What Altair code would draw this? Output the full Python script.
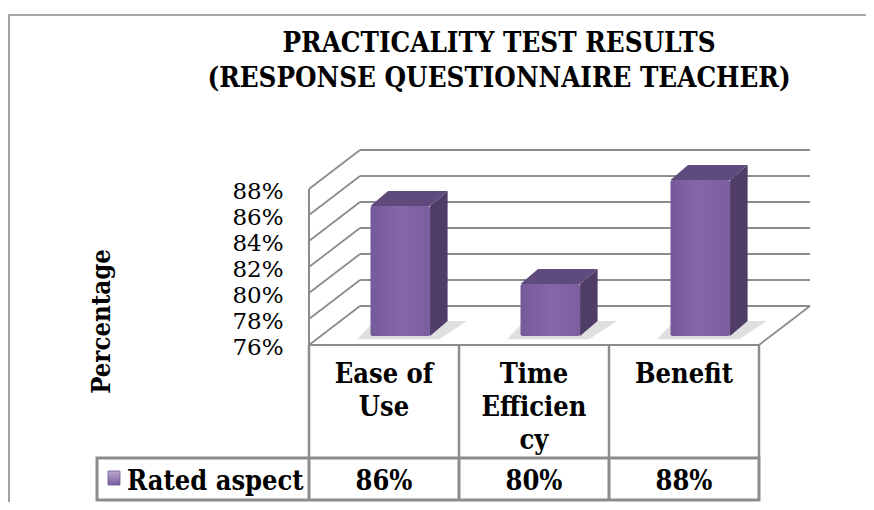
import altair as alt
import pandas as pd

# ---------------- data ----------------
title_lines = ["PRACTICALITY TEST RESULTS", "(RESPONSE QUESTIONNAIRE TEACHER)"]
categories = ["Ease of Use", "Time Efficiency", "Benefit"]
category_labels = ["Ease of\nUse", "Time\nEfficien\ncy", "Benefit"]
values = [86, 80, 88]
value_labels = ["86%", "80%", "88%"]
y_ticks = [76, 78, 80, 82, 84, 86, 88]
series_name = "Rated aspect"
y_title = "Percentage"

# ---------------- layout / style ----------------
PAD_L, PAD_T = 301, 7
W, H = 557, 487
COL_PX = 150.0          # one category column in px
PX_PER_PCT = 13.0
BASE = 76               # floor value
BASE_Y = 330            # plot-y of BASE on the front plane
Y_MAX = BASE + BASE_Y / PX_PER_PCT
Y_MIN = BASE - (H - BASE_Y) / PX_PER_PCT
X_MAX = W / COL_PX
N = len(categories)

WALL_DU, WALL_DP = 0.34, 3.0          # depth of the back wall
BAR_L, BAR_R = 0.41, 0.807            # bar front face inside a column
BAR_LIFT = 0.7                        # bars stand a bit behind the front edge
BAR_DU, BAR_DP = 0.117, 1.15          # bar depth

GRID = "#8c8c8c"
SIDE = "#4F3D67"
TOP = "#5F4A7D"
FONT = "DejaVu Serif"
FONT_C = "DejaVu Serif Condensed, DejaVu Serif"


def ux(page_x):
    return (page_x - (PAD_L + 8)) / COL_PX


def py(page_y):
    return BASE + ((BASE_Y + PAD_T + 8) - page_y) / PX_PER_PCT


xs = alt.Scale(domain=[0, X_MAX], range=[0, W], nice=False, zero=False)
ys = alt.Scale(domain=[Y_MIN, Y_MAX], range=[H, 0], nice=False, zero=False)

y_axis = alt.Axis(
    orient="left",
    values=y_ticks,
    labelExpr="datum.value + '%'",
    labelFont=FONT, labelFontSize=23, labelColor="black",
    labelPadding=26, labelFlush=False, labelOverlap=False, labelOffset=2,
    ticks=False, domain=False, grid=False,
    title=y_title, titleFont=FONT_C, titleFontSize=25.5, titleFontWeight="bold",
    titleColor="black", titleAngle=270, titleAlign="center", titleBaseline="middle",
    titleX=-208, titleY=306,
)


def X(f):
    return alt.X(f, type="quantitative", scale=xs, axis=None)


def Y(f):
    return alt.Y(f, type="quantitative", scale=ys, axis=y_axis, stack=False)


# ---------------- geometry tables (derived from data) ----------------
top_tick = max(y_ticks)
lines = []
for t in y_ticks:
    lines.append(dict(x=WALL_DU, x2=N + WALL_DU, y=t + WALL_DP, y2=t + WALL_DP, w=1.8))
    lines.append(dict(x=0, x2=WALL_DU, y=t, y2=t + WALL_DP, w=1.8))
lines.append(dict(x=0, x2=0, y=BASE, y2=top_tick, w=2.0))
lines.append(dict(x=0, x2=N, y=BASE, y2=BASE, w=2.2))
lines.append(dict(x=N, x2=N + WALL_DU, y=BASE, y2=BASE + WALL_DP, w=1.8))
lines_df = pd.DataFrame(lines)

front_rows, side_rows, top_rows, shadow_rows = [], [], [], []
for i, (c, v) in enumerate(zip(categories, values)):
    x0, x1 = i + BAR_L, i + BAR_R
    yb, yt = BASE + BAR_LIFT, v + BAR_LIFT
    front_rows.append(dict(cat=c, x0=x0, x1=x1, yb=yb, yt=yt, value=v))
    side_rows += [
        dict(g=c, x=x1, lo=yb, hi=yt),
        dict(g=c, x=x1 + BAR_DU, lo=yb + BAR_DP, hi=yt + BAR_DP),
    ]
    top_rows += [
        dict(g=c, x=x0, lo=yt, hi=yt),
        dict(g=c, x=x0 + BAR_DU, lo=yt, hi=yt + BAR_DP),
        dict(g=c, x=x1, lo=yt, hi=yt + BAR_DP),
        dict(g=c, x=x1 + BAR_DU, lo=yt + BAR_DP, hi=yt + BAR_DP),
    ]
    s0, s1 = yb - 0.25, yb + BAR_DP
    shadow_rows += [
        dict(g=c, x=x0 - 0.09, lo=s0, hi=s0),
        dict(g=c, x=x0 + BAR_DU - 0.09, lo=s0, hi=s1),
        dict(g=c, x=x1 + 0.06, lo=s0, hi=s1),
        dict(g=c, x=x1 + BAR_DU + 0.13, lo=s1, hi=s1),
    ]
front_df = pd.DataFrame(front_rows)
side_df = pd.DataFrame(side_rows)
top_df = pd.DataFrame(top_rows)
shadow_df = pd.DataFrame(shadow_rows)

ROW1_BOTTOM = py(458)
ROW2_BOTTOM = py(500)
table_lines = []
for k in range(N + 1):
    table_lines.append(dict(x=k, x2=k, y=BASE, y2=ROW1_BOTTOM, w=2.5))
for k in range(N):
    table_lines.append(dict(x=k, x2=k, y=ROW1_BOTTOM, y2=ROW2_BOTTOM, w=3.0))
table_lines_df = pd.DataFrame(table_lines)
table_box_df = pd.DataFrame([dict(x=ux(97), x2=N, y=ROW1_BOTTOM, y2=ROW2_BOTTOM)])

cat_df = pd.DataFrame(dict(x=[i + 0.5 for i in range(N)], label=category_labels, y=[py(383)] * N))
val_df = pd.DataFrame(dict(x=[i + 0.5 for i in range(N)], label=value_labels, y=[py(490)] * N))
series_df = pd.DataFrame([dict(x=ux(127), y=py(490), label=series_name)])
swatch_df = pd.DataFrame([dict(x=ux(108), x2=ux(120), y=py(485), y2=py(471))])
title_df = pd.DataFrame(dict(x=[ux(499)] * 2, y=[py(52), py(87)], label=title_lines))
border_df = pd.DataFrame([dict(x=ux(9), x2=X_MAX + 0.2, y=py(15), y2=Y_MIN - 2)])

# ---------------- layers ----------------
border = alt.Chart(border_df).mark_rect(fillOpacity=0, stroke="#8a8a8a", strokeWidth=1.6).encode(
    x=X("x"), x2="x2", y=Y("y"), y2="y2"
)

grid = alt.Chart(lines_df).mark_rule(color=GRID).encode(
    x=X("x"), x2="x2", y=Y("y"), y2="y2",
    strokeWidth=alt.StrokeWidth("w:Q", scale=None, legend=None),
)

shadow = alt.Chart(shadow_df).mark_area(orient="vertical", color="#b8b8b8", opacity=0.45).encode(
    x=X("x"), y=Y("lo"), y2="hi", detail="g:N"
)

front_grad = alt.Gradient(
    gradient="linear", x1=0, x2=1, y1=0, y2=0,
    stops=[
        alt.GradientStop(color="#76599A", offset=0),
        alt.GradientStop(color="#8468A6", offset=0.5),
        alt.GradientStop(color="#7A5E9E", offset=1),
    ],
)

bars_front = alt.Chart(front_df).mark_rect(color=front_grad, cornerRadius=2).encode(
    x=X("x0"), x2="x1", y=Y("yb"), y2="yt",
    tooltip=["cat:N", "value:Q"],
)

bars_side = alt.Chart(side_df).mark_area(orient="vertical", color=SIDE).encode(
    x=X("x"), y=Y("lo"), y2="hi", detail="g:N"
)

bars_top = alt.Chart(top_df).mark_area(orient="vertical", color=TOP).encode(
    x=X("x"), y=Y("lo"), y2="hi", detail="g:N"
)

tbl_lines = alt.Chart(table_lines_df).mark_rule(color=GRID).encode(
    x=X("x"), x2="x2", y=Y("y"), y2="y2",
    strokeWidth=alt.StrokeWidth("w:Q", scale=None, legend=None),
)

tbl_box = alt.Chart(table_box_df).mark_rect(fillOpacity=0, stroke=GRID, strokeWidth=3).encode(
    x=X("x"), x2="x2", y=Y("y"), y2="y2"
)

cat_text = alt.Chart(cat_df).mark_text(
    font=FONT_C, fontSize=27, fontWeight="bold", color="black",
    align="center", baseline="alphabetic", lineBreak="\n", lineHeight=33,
).encode(x=X("x"), y=Y("y"), text="label:N")

val_text = alt.Chart(val_df).mark_text(
    font=FONT_C, fontSize=27, fontWeight="bold", color="black",
    align="center", baseline="alphabetic",
).encode(x=X("x"), y=Y("y"), text="label:N")

series_text = alt.Chart(series_df).mark_text(
    font=FONT_C, fontSize=27, fontWeight="bold", color="black",
    align="left", baseline="alphabetic",
).encode(x=X("x"), y=Y("y"), text="label:N")

swatch_grad = alt.Gradient(
    gradient="linear", x1=0, x2=0, y1=0, y2=1,
    stops=[
        alt.GradientStop(color="#B9A8CF", offset=0),
        alt.GradientStop(color="#7A5E9E", offset=1),
    ],
)
swatch = alt.Chart(swatch_df).mark_rect(color=swatch_grad, stroke="#6b5590", strokeWidth=0.8).encode(
    x=X("x"), x2="x2", y=Y("y"), y2="y2"
)

title = alt.Chart(title_df).mark_text(
    font=FONT_C, fontSize=27.5, fontWeight="bold", color="black",
    align="center", baseline="alphabetic",
).encode(x=X("x"), y=Y("y"), text="label:N")

chart = alt.layer(
    border, grid, shadow, bars_front, bars_side, bars_top,
    tbl_lines, tbl_box, cat_text, val_text, series_text, swatch, title,
).properties(
    width=W, height=H,
    padding={"left": PAD_L, "top": PAD_T, "right": 0, "bottom": 0},
    autosize=alt.AutoSizeParams(type="none"),
    background="white",
).configure_view(strokeWidth=0)

chart.save("out.html", embed_options={"renderer": "svg", "actions": False})
